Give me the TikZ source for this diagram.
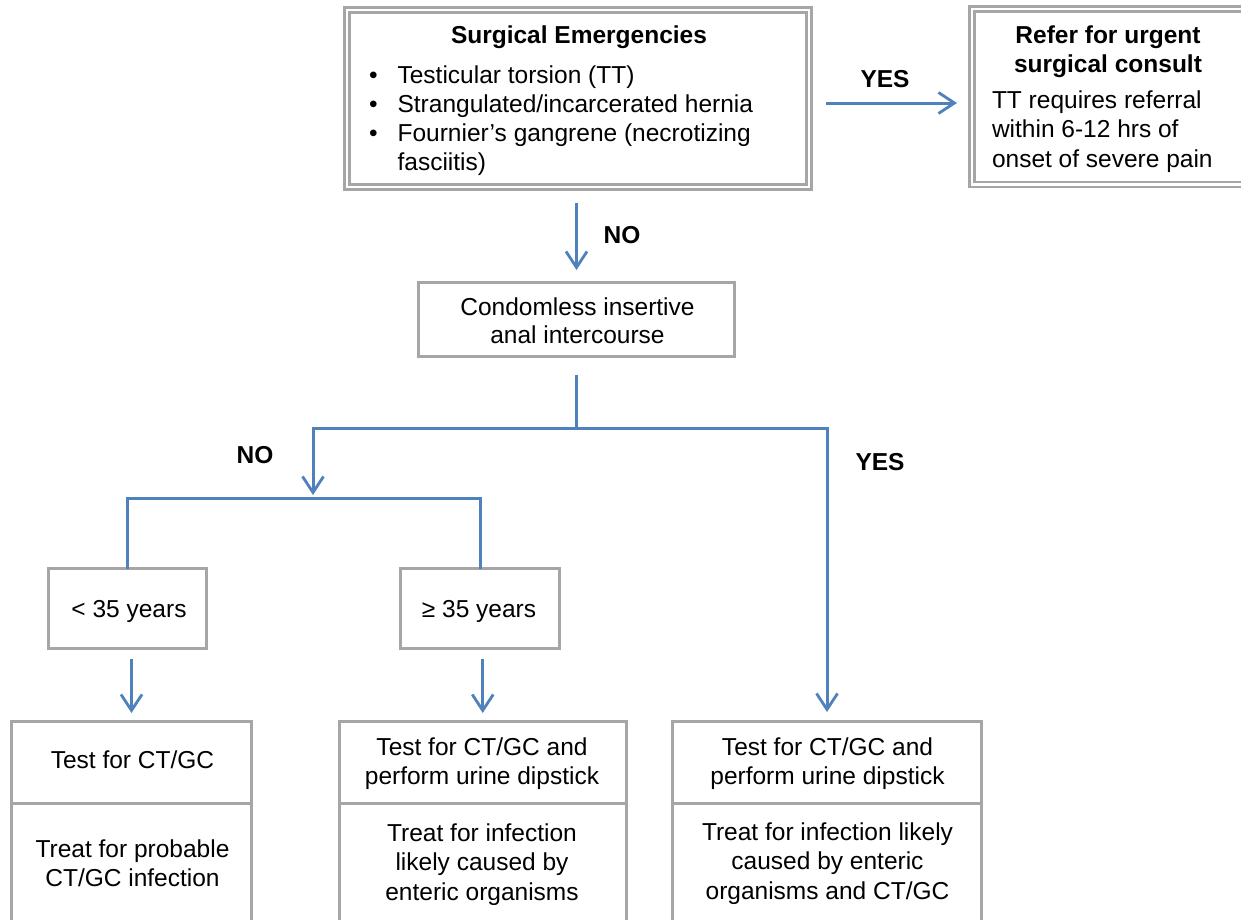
\documentclass[tikz,border=0pt]{standalone}
\usepackage{fontspec}
\setmainfont{Liberation Sans}
\usetikzlibrary{arrows.meta}
\definecolor{lineblue}{HTML}{4F81BD}
\definecolor{boxgray}{HTML}{A6A6A6}
\newcommand\ctab[1]{\begin{tabular}[t]{@{}c@{}}#1\end{tabular}}
\newcommand\ltab[1]{\begin{tabular}[t]{@{}l@{}}#1\end{tabular}}
\begin{document}
\begin{tikzpicture}[x=1pt,y=-1pt,
  every node/.style={font=\fontsize{24.5}{29.5}\selectfont, inner sep=0pt, outer sep=0pt},
  box/.style={draw=boxgray, line width=3pt, rectangle},
  dbox/.style={draw=boxgray, line width=2.7pt, double=white, double distance=2.3pt, rectangle},
  conn/.style={draw=lineblue, line width=3pt},
  arr/.style={conn, -{Straight Barb[length=16pt,width=21pt,line width=2.8pt]}},
  lbl/.style={font=\fontsize{24.5}{29.5}\selectfont\bfseries, anchor=base}
]
\useasboundingbox (0,0) rectangle (1241,919);
\clip (0,0) rectangle (1241,919);
\fill[white] (0,0) rectangle (1241,919);

% boxes
\node[dbox, minimum width=462pt, minimum height=177pt] (surg) at (578,98.5) {};
\node[dbox, minimum width=278pt, minimum height=175.5pt] (refer) at (1111,96.75) {};
\node[box, minimum width=316pt, minimum height=74pt] (cond) at (576.5,319.5) {};
\node[box, minimum width=158pt, minimum height=80pt] (agelo) at (127.5,608.5) {};
\node[box, minimum width=159pt, minimum height=80pt] (agehi) at (480,608.5) {};
\node[box, minimum width=240pt, minimum height=82pt] (b1top) at (131.5,762.5) {};
\node[box, minimum width=240pt, minimum height=136.5pt] (b1bot) at (131.5,871.75) {};
\node[box, minimum width=286.5pt, minimum height=82pt] (b2top) at (482.75,762.5) {};
\node[box, minimum width=286.5pt, minimum height=136.5pt] (b2bot) at (482.75,871.75) {};
\node[box, minimum width=309pt, minimum height=82pt] (b3top) at (827,762.5) {};
\node[box, minimum width=309pt, minimum height=136.5pt] (b3bot) at (827,871.75) {};

% texts
\node[anchor=base, font=\fontsize{24.5}{29}\selectfont\bfseries] (surgtitle) at (579,43) {Surgical Emergencies};
\node[anchor=base west, font=\fontsize{24.5}{29}\selectfont] (surglist) at (369,83)
  {\begin{tabular}[t]{@{}c@{\hspace{20pt}}l@{}}
   \textbullet & Testicular torsion (TT)\\
   \textbullet & Strangulated/incarcerated hernia\\
   \textbullet & Fournier's gangrene (necrotizing\\
               & fasciitis)
   \end{tabular}};
\node[anchor=base, font=\fontsize{24.5}{29}\selectfont\bfseries] (refertitle) at (1108,43) {\ctab{Refer for urgent\\surgical consult}};
\node[anchor=base west, font=\fontsize{24.5}{29.5}\selectfont] (refertext) at (992,108) {\ltab{TT requires referral\\within 6-12 hrs of\\onset of severe pain}};
\node[anchor=base, font=\fontsize{24.5}{28}\selectfont] (condtext) at (577.5,315) {\ctab{Condomless insertive\\anal intercourse}};
\node[anchor=base] (agelotext) at (129,617) {< 35 years};
\node[anchor=base] (agehitext) at (479,617) {≥ 35 years};
\node[anchor=base] (t1top) at (132.5,768) {Test for CT/GC};
\node[anchor=base] (t1bot) at (132.5,857) {\ctab{Treat for probable\\CT/GC infection}};
\node[anchor=base] (t2top) at (482,755) {\ctab{Test for CT/GC and\\perform urine dipstick}};
\node[anchor=base] (t2bot) at (482,841) {\ctab{Treat for infection\\likely caused by\\enteric organisms}};
\node[anchor=base] (t3top) at (827.5,755) {\ctab{Test for CT/GC and\\perform urine dipstick}};
\node[anchor=base] (t3bot) at (827.5,840) {\ctab{Treat for infection likely\\caused by enteric\\organisms and CT/GC}};

% labels
\node[lbl] (yes1) at (885,87) {YES};
\node[lbl] (no1) at (622,243) {NO};
\node[lbl] (no2) at (255,463) {NO};
\node[lbl] (yes2) at (880,470) {YES};

% connectors
\coordinate (j1) at (576.5,428);
\coordinate (j2) at (313,495);
\coordinate (j3) at (313,498);
\draw[arr, shorten <=17pt, shorten >=15pt] ([yshift=-4.5pt]surg.east) -- ([yshift=-4.5pt]surg.east -| refer.west);
\draw[arr, shorten <=16pt, shorten >=12.5pt] (cond.north |- surg.south) -- (cond.north);
\draw[conn, shorten <=18.5pt] (cond.south) -- (j1);
\draw[arr] (j1) -| (j2);
\draw[arr, shorten >=9.5pt] (j1) -| (b3top.north);
\draw[conn] (agelo.north) |- (j3) -| (agehi.north);
\draw[arr, shorten <=10.5pt, shorten >=8.5pt] (agelo.south -| b1top.north) -- (b1top.north);
\draw[arr, shorten <=10.5pt, shorten >=8.5pt] (agehi.south -| b2top.north) -- (b2top.north);
\end{tikzpicture}
\end{document}
